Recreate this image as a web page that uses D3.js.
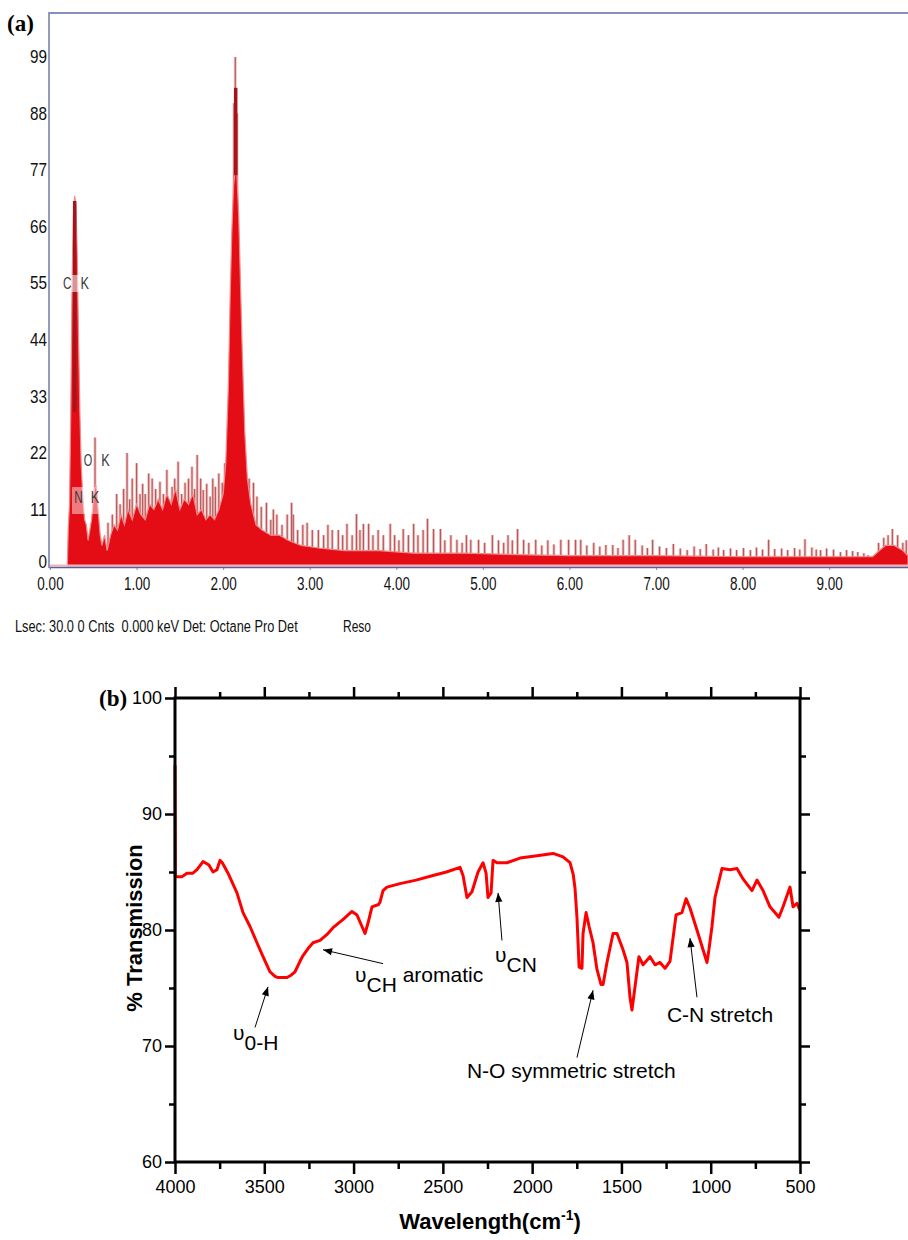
<!DOCTYPE html>
<html>
<head>
<meta charset="utf-8">
<script src="https://cdn.jsdelivr.net/npm/d3@7"></script>
<style>
body { margin: 0; background: #fff; }
svg { display: block; }
</style>
</head>
<body>
<div id="chart"></div>
<script>
// ---- (a) EDX spectrum ----
const edxTicksY = [0, 11, 22, 33, 44, 55, 66, 77, 88, 99];
const edxTicksX = [0, 1, 2, 3, 4, 5, 6, 7, 8, 9];

// solid fill envelope (keV, counts)
const edxFillKeV = [0.20, 0.21, 0.225, 0.24, 0.255, 0.27, 0.285, 0.30, 0.315, 0.33, 0.345, 0.36, 0.38, 0.40, 0.42, 0.44,
  0.46, 0.48, 0.50, 0.52, 0.54, 0.56, 0.58, 0.60, 0.63, 0.66, 0.70, 0.74, 0.78, 0.82, 0.86, 0.90, 0.95, 1.00, 1.05,
  1.10, 1.15, 1.20, 1.25, 1.30, 1.35, 1.40, 1.45, 1.50, 1.55, 1.60, 1.65, 1.70, 1.75, 1.80, 1.85, 1.90, 1.95, 2.00,
  2.03, 2.06, 2.08, 2.10, 2.12, 2.14, 2.16, 2.18, 2.20, 2.22, 2.25, 2.28, 2.32, 2.38, 2.45, 2.55, 2.65, 2.75, 2.90,
  3.10, 3.40, 3.80, 4.20, 4.80, 5.40, 6.00, 7.00, 8.00, 9.00, 9.50, 9.58, 9.65, 9.75, 9.85, 9.91];
const edxFillCnt = [0, 7, 12, 30, 55, 68, 72, 70, 60, 44, 30, 20, 13, 9, 8, 5,
  7, 9, 13, 16, 15, 10, 6, 4, 6, 3, 6, 8, 7, 10, 8, 11, 9, 12, 10,
  9, 12, 11, 13, 11, 14, 12, 15, 11, 13, 12, 14, 10, 11, 9, 10, 9, 11, 14,
  20, 35, 52, 65, 74, 77, 76, 68, 55, 42, 26, 17, 12, 8, 7, 6, 6, 5, 4,
  3.5, 3, 3, 2.5, 2.5, 2.2, 2, 2, 1.8, 1.8, 1.8, 3, 4, 4, 3, 2];

// individual channel spikes (keV, counts)
const edxSpikeKeV = [0.52, 0.67, 0.72, 0.77, 0.81, 0.85, 0.89, 0.92, 0.95, 1.00, 1.04, 1.07, 1.10, 1.14, 1.18, 1.22,
  1.27, 1.31, 1.35, 1.38, 1.41, 1.44, 1.48, 1.52, 1.56, 1.60, 1.64, 1.67, 1.70, 1.74, 1.77, 1.81, 1.85, 1.88, 1.91,
  1.95, 1.99, 2.02, 2.125, 2.14, 2.16, 2.30, 2.35, 2.39, 2.44, 2.50, 2.55, 2.58, 2.62, 2.68, 2.74, 2.79, 2.81, 2.86,
  2.92, 2.97, 3.03, 3.10, 3.16, 3.21, 3.26, 3.33, 3.38, 3.43, 3.49, 3.54, 3.58, 3.62, 3.68, 3.73, 3.79, 3.85, 3.93,
  3.98, 4.03, 4.08, 4.14, 4.20, 4.25, 4.31, 4.36, 4.43, 4.51, 4.56, 4.63, 4.70, 4.76, 4.81, 4.86, 4.95, 5.02, 5.11,
  5.18, 5.24, 5.29, 5.34, 5.40, 5.47, 5.53, 5.61, 5.68, 5.75, 5.82, 5.90, 5.99, 6.07, 6.13, 6.20, 6.28, 6.35, 6.42,
  6.50, 6.56, 6.62, 6.69, 6.76, 6.84, 6.90, 6.96, 7.04, 7.12, 7.20, 7.28, 7.36, 7.44, 7.51, 7.58, 7.66, 7.72, 7.78,
  7.86, 7.93, 8.01, 8.09, 8.16, 8.23, 8.30, 8.37, 8.45, 8.52, 8.60, 8.66, 8.72, 8.80, 8.85, 8.90, 8.97, 9.05, 9.13,
  9.20, 9.27, 9.33, 9.40, 9.45, 9.57, 9.63, 9.68, 9.73, 9.79, 9.85, 9.89];
const edxSpikeCnt = [25, 8.4, 10, 14, 12, 15, 22, 13, 17, 20, 14, 16, 14, 18, 17, 15,
  16.4, 14, 18.7, 13, 15.4, 17, 20.3, 14, 16.2, 17, 19.3, 15, 21.6, 17, 14.8, 16, 13.5, 17, 15.4,
  18, 16.2, 20, 90, 99, 88, 17, 16.2, 13.5, 11.5, 12.3, 9, 11, 10, 8, 10, 12.3, 10, 7,
  8, 8.4, 7, 7, 6, 8, 7, 7, 6, 8.2, 6, 10.1, 7, 8.2, 8.2, 6, 7, 6, 8.2,
  6, 5, 7.2, 6, 8.2, 6, 7, 9.2, 7.2, 7.2, 5, 6, 5.1, 4.5, 6, 5.1, 5.1, 4.5, 6,
  5, 4.5, 6, 5, 7.2, 5.1, 4.5, 5.1, 4, 5, 4.2, 5.1, 5.1, 5.1, 5.1, 4, 4.5, 3.8, 4.1,
  4.1, 3.5, 5.1, 6, 5.1, 4, 3.5, 5.1, 3.8, 3.5, 4.3, 3.4, 3.1, 3.8, 3.3, 4.3, 3.2, 3.6, 3.1,
  3.4, 3.1, 3.5, 3.1, 3.6, 3.2, 5.1, 3.3, 3.4, 3.1, 3.5, 3.2, 5.2, 3.6, 3.2, 3.1, 3.4, 3.2, 2.7,
  3.1, 2.9, 2.7, 2.5, 2.1, 4.5, 5.5, 6, 7.2, 6, 4.5, 5];

// dark cores of the two main peaks (keV, low, high counts)
const edxCoreKeV = [0.285, 2.145];
const edxCoreLo = [30, 76];
const edxCoreHi = [71, 93];

const edxCaption = "Lsec: 30.0 0 Cnts  0.000 keV Det: Octane Pro Det";

// ---- (b) FTIR spectrum ----
const irWave = [4000, 3998, 3960, 3933, 3900, 3877, 3843, 3810, 3787, 3765, 3748, 3735, 3700, 3653, 3619, 3580, 3541,
  3507, 3468, 3440, 3423, 3373, 3350, 3328, 3300, 3283, 3250, 3227, 3188, 3150, 3115, 3060, 3009, 2981, 2953, 2936,
  2919, 2897, 2860, 2852, 2835, 2813, 2740, 2650, 2555, 2480, 2404, 2387, 2365, 2337, 2303, 2275, 2258, 2247, 2230,
  2219, 2197, 2141, 2068, 1973, 1883, 1827, 1788, 1770, 1760, 1749, 1737, 1721, 1715, 1698, 1681, 1659, 1637, 1614,
  1603, 1581, 1547, 1525, 1491, 1469, 1452, 1441, 1424, 1402, 1379, 1340, 1312, 1284, 1256, 1228, 1194, 1161, 1138,
  1116, 1077, 1043, 1021, 1010, 993, 976, 937, 892, 853, 819, 769, 741, 707, 668, 618, 595, 556, 539, 517, 500];
const irTrans = [94.2, 84.6, 84.6, 84.9, 84.9, 85.2, 85.9, 85.6, 85.0, 85.2, 86.0, 85.8, 84.8, 83.2, 81.5, 80.3, 78.9,
  77.7, 76.4, 76.0, 75.9, 75.9, 76.1, 76.4, 77.3, 77.8, 78.5, 78.9, 79.1, 79.6, 80.2, 80.9, 81.6, 81.3, 80.3, 79.7,
  80.6, 82.0, 82.2, 82.4, 83.4, 83.7, 84.0, 84.3, 84.7, 85.0, 85.4, 84.7, 82.8, 83.3, 85.0, 85.8, 84.9, 82.8, 83.2,
  86.0, 85.8, 85.8, 86.2, 86.4, 86.6, 86.3, 85.8, 84.8, 83.6, 81.1, 76.8, 76.7, 79.7, 81.5, 80.3, 78.9, 76.6, 75.3,
  75.3, 77.2, 79.7, 79.7, 78.3, 77.2, 74.2, 73.1, 75.1, 77.7, 77.0, 77.7, 77.0, 77.2, 76.7, 77.3, 81.3, 81.5, 82.7,
  81.9, 80.0, 78.3, 77.2, 78.3, 80.3, 82.8, 85.3, 85.2, 85.3, 84.4, 83.4, 84.3, 83.4, 82.0, 81.1, 82.0, 83.7, 82.0, 82.3, 81.7];
const irMajorX = [4000, 3500, 3000, 2500, 2000, 1500, 1000, 500];
const irMinorX = [3750, 3250, 2750, 2250, 1750, 1250, 750];
const irMajorY = [60, 70, 80, 90, 100];
const irMinorY = [65, 75, 85, 95];

// band annotations: label parts [text, dy], label anchor and arrow tip/tail in data units
const irNotes = [
  { parts: [["υ", 0], ["0-H", 10]], wn: 3675, t: 70.5, tip: [3479, 75.1], tail: [3552, 71.6] },
  { parts: [["υ", 0], ["CH", 10], [" aromatic", -10]], wn: 2992, t: 75.5, tip: [3171, 78.3], tail: [2835, 77.1] },
  { parts: [["υ", 0], ["CN", 10]], wn: 2208, t: 77.2, tip: [2191, 83.2], tail: [2169, 79.1] },
  { parts: [["N-O symmetric stretch", 0]], wn: 2365, t: 67.2, tip: [1659, 74.8], tail: [1749, 69.0] },
  { parts: [["C-N stretch", 0]], wn: 1245, t: 72.1, tip: [1116, 79.3], tail: [1077, 74.2] }
];

const sans = "'Liberation Sans', Arial, sans-serif";
const serif = "'Liberation Serif', 'Times New Roman', serif";

// squeeze a text horizontally to a target width (the instrument font is narrow)
function squeeze(sel, widthOf) {
  sel.each(function(d) {
    const w = this.getComputedTextLength();
    const target = widthOf(d, this);
    if (w > 0) d3.select(this).attr("transform", "scale(" + (target / w) + ",1)");
  });
}
function narrowLen(s, digit, dot) {
  let w = 0;
  for (const c of s) w += (c === ".") ? dot : digit;
  return w;
}

const svg = d3.select("#chart").append("svg")
  .attr("width", 908)
  .attr("height", 1240);

// ================= panel (a) =================
const xA = d3.scaleLinear().domain([0, 9.91]).range([50, 908]);
const yA = d3.scaleLinear().domain([0, 99]).range([566, 57]);

const spikes = d3.zip(edxSpikeKeV, edxSpikeCnt);
const gA = svg.append("g");

// spikes sit under the solid fill, so only their tops show
gA.selectAll("line.halo")
  .data(spikes)
  .enter().append("line")
  .attr("x1", d => xA(d[0])).attr("x2", d => xA(d[0]))
  .attr("y1", yA(0)).attr("y2", d => yA(d[1]))
  .style("stroke", "#f4c2c2")
  .style("stroke-width", 3);

gA.selectAll("line.spike")
  .data(spikes)
  .enter().append("line")
  .attr("x1", d => xA(d[0])).attr("x2", d => xA(d[0]))
  .attr("y1", yA(0)).attr("y2", d => yA(d[1]))
  .style("stroke", "#b35b5b")
  .style("stroke-width", 1.2);

const area = d3.area()
  .x(d => xA(d[0]))
  .y0(yA(0))
  .y1(d => yA(d[1]));

gA.append("path")
  .datum(d3.zip(edxFillKeV, edxFillCnt))
  .attr("d", area)
  .style("fill", "#e50d15")
  .style("stroke", "#f08a8a")
  .style("stroke-width", 1.2);

// dark cores
gA.selectAll("line.core")
  .data(d3.zip(edxCoreKeV, edxCoreLo, edxCoreHi))
  .enter().append("line")
  .attr("x1", d => xA(d[0])).attr("x2", d => xA(d[0]))
  .attr("y1", d => yA(d[1])).attr("y2", d => yA(d[2]))
  .style("stroke", "#a3151a")
  .style("stroke-width", 3.5);

// element labels with light bands
gA.append("rect").attr("x", 62).attr("y", 275).attr("width", 30).attr("height", 17)
  .style("fill", "#fff").style("opacity", 0.55);
gA.append("rect").attr("x", 72).attr("y", 487).attr("width", 28).attr("height", 27)
  .style("fill", "#fff").style("opacity", 0.45);

const elLabels = [
  { t: "C", x: 0.2, y: 55 }, { t: "K", x: 0.4, y: 55 },
  { t: "O", x: 0.44, y: 20.5 }, { t: "K", x: 0.64, y: 20.5 },
  { t: "N", x: 0.33, y: 13.3 }, { t: "K", x: 0.52, y: 13.3 }
];
gA.selectAll("g.el")
  .data(elLabels)
  .enter().append("g")
  .attr("transform", d => "translate(" + xA(d.x) + "," + yA(d.y) + ")")
  .append("text")
  .attr("dy", "0.35em")
  .attr("text-anchor", "middle")
  .style("font-family", sans)
  .style("font-size", "16px")
  .style("fill", "#3a3a3a")
  .text(d => d.t)
  .call(squeeze, () => 8.5);

// axes
const yAxisA = gA.append("g")
  .attr("transform", "translate(47,0)")
  .call(d3.axisLeft(yA).tickValues(edxTicksY).tickSize(0).tickPadding(0))
  .call(g => g.select(".domain").remove());
yAxisA.selectAll("text")
  .style("font-family", sans)
  .style("font-size", "18px")
  .style("fill", "#111")
  .call(squeeze, d => narrowLen(String(d), 8.5, 3));
// lift the "0" a little so it clears the 0.00 label
yAxisA.selectAll(".tick").filter(d => d === 0).select("text").attr("y", -4);

gA.append("g")
  .attr("transform", "translate(0,567)")
  .call(d3.axisBottom(xA).tickValues(edxTicksX).tickSize(3).tickPadding(7).tickFormat(d3.format(".2f")))
  .call(g => g.select(".domain").remove())
  .call(g => g.selectAll("line").style("stroke", "#8a8fb5"))
  .selectAll("text")
  .style("font-family", sans)
  .style("font-size", "18px")
  .style("fill", "#111")
  .call(squeeze, d => narrowLen(d3.format(".2f")(d), 7.6, 3.5));

// frame
gA.append("line").attr("x1", 49).attr("x2", 908).attr("y1", 565.5).attr("y2", 565.5)
  .style("stroke", "#f2b3c0").style("stroke-width", 2);
gA.append("line").attr("x1", 49).attr("x2", 908).attr("y1", 567.5).attr("y2", 567.5)
  .style("stroke", "#5b5f92").style("stroke-width", 1.5);
gA.append("line").attr("x1", 49).attr("x2", 908).attr("y1", 13).attr("y2", 13)
  .style("stroke", "#8790ba").style("stroke-width", 2);
gA.append("line").attr("x1", 49).attr("x2", 49).attr("y1", 12).attr("y2", 568)
  .style("stroke", "#8790ba").style("stroke-width", 1.8);

gA.append("g").attr("transform", "translate(15,632)")
  .append("text")
  .attr("xml:space", "preserve")
  .style("font-family", sans).style("font-size", "17px").style("fill", "#111")
  .text(edxCaption)
  .call(squeeze, () => 283);
gA.append("g").attr("transform", "translate(343,632)")
  .append("text")
  .style("font-family", sans).style("font-size", "17px").style("fill", "#111")
  .text("Reso")
  .call(squeeze, () => 28);

svg.append("text")
  .attr("x", 7).attr("y", 31)
  .style("font-family", serif).style("font-weight", "bold").style("font-size", "23px")
  .text("(a)");

// ================= panel (b) =================
const xB = d3.scaleLinear().domain([4000, 500]).range([175, 800]);
const yB = d3.scaleLinear().domain([60, 100]).range([1162, 698]);
const gB = svg.append("g");

function styleAxis(g) {
  g.select(".domain").remove();
  g.selectAll("line").style("stroke", "#000").style("stroke-width", 2.5);
  g.selectAll("text").style("font-family", sans).style("font-size", "18px").style("fill", "#000");
}

// bottom
gB.append("g").attr("transform", "translate(0,1162)")
  .call(d3.axisBottom(xB).tickValues(irMajorX).tickSize(12).tickPadding(6).tickFormat(d3.format("d")))
  .call(styleAxis);
gB.append("g").attr("transform", "translate(0,1162)")
  .call(d3.axisBottom(xB).tickValues(irMinorX).tickSize(7).tickFormat(""))
  .call(styleAxis);
// top
gB.append("g").attr("transform", "translate(0,698)")
  .call(d3.axisTop(xB).tickValues(irMajorX).tickSize(11).tickFormat(""))
  .call(styleAxis);
gB.append("g").attr("transform", "translate(0,698)")
  .call(d3.axisTop(xB).tickValues(irMinorX).tickSize(6).tickFormat(""))
  .call(styleAxis);
// left
gB.append("g").attr("transform", "translate(175,0)")
  .call(d3.axisLeft(yB).tickValues(irMajorY).tickSize(10).tickPadding(3))
  .call(styleAxis);
gB.append("g").attr("transform", "translate(175,0)")
  .call(d3.axisLeft(yB).tickValues(irMinorY).tickSize(6).tickFormat(""))
  .call(styleAxis);
// right
gB.append("g").attr("transform", "translate(800,0)")
  .call(d3.axisRight(yB).tickValues(irMajorY).tickSize(10).tickFormat(""))
  .call(styleAxis);
gB.append("g").attr("transform", "translate(800,0)")
  .call(d3.axisRight(yB).tickValues(irMinorY).tickSize(6).tickFormat(""))
  .call(styleAxis);

// spectrum line
const line = d3.line()
  .x(d => xB(d[0]))
  .y(d => yB(d[1]));

gB.append("path")
  .datum(d3.zip(irWave, irTrans))
  .attr("d", line)
  .style("fill", "none")
  .style("stroke", "#ff0000")
  .style("stroke-width", 3)
  .style("stroke-linejoin", "round");

gB.append("rect")
  .attr("x", 175).attr("y", 698)
  .attr("width", 625).attr("height", 464)
  .style("fill", "none")
  .style("stroke", "#000")
  .style("stroke-width", 3);

// arrows
svg.append("defs").append("marker")
  .attr("id", "arrow")
  .attr("viewBox", "0 -5 10 10")
  .attr("refX", 10)
  .attr("refY", 0)
  .attr("markerUnits", "userSpaceOnUse")
  .attr("markerWidth", 10)
  .attr("markerHeight", 9)
  .attr("orient", "auto")
  .append("path")
  .attr("d", "M0,-4L10,0L0,4Z")
  .style("fill", "#000");

gB.selectAll("line.arrow")
  .data(irNotes)
  .enter().append("line")
  .attr("x1", d => xB(d.tail[0])).attr("y1", d => yB(d.tail[1]))
  .attr("x2", d => xB(d.tip[0])).attr("y2", d => yB(d.tip[1]))
  .attr("marker-end", "url(#arrow)")
  .style("stroke", "#000")
  .style("stroke-width", 1);

const notes = gB.selectAll("text.note")
  .data(irNotes)
  .enter().append("text")
  .attr("x", d => xB(d.wn))
  .attr("y", d => yB(d.t))
  .attr("xml:space", "preserve")
  .style("font-family", sans)
  .style("font-size", "21px")
  .style("fill", "#000");

notes.each(function(d) {
  const t = d3.select(this);
  d.parts.forEach(p => {
    t.append("tspan").attr("dy", p[1]).text(p[0]);
  });
});

// axis titles
gB.append("text")
  .attr("transform", "translate(142,928) rotate(-90)")
  .attr("text-anchor", "middle")
  .style("font-family", sans).style("font-weight", "bold").style("font-size", "22px")
  .text("% Transmission");

const xt = gB.append("text")
  .attr("x", 490).attr("y", 1229)
  .attr("text-anchor", "middle")
  .style("font-family", sans).style("font-weight", "bold").style("font-size", "22px");
xt.append("tspan").text("Wavelength(cm");
xt.append("tspan").attr("dy", -9).style("font-size", "14px").text("-1");
xt.append("tspan").attr("dy", 9).text(")");

svg.append("text")
  .attr("x", 99).attr("y", 706)
  .style("font-family", serif).style("font-weight", "bold").style("font-size", "23px")
  .text("(b)");
</script>
</body>
</html>
